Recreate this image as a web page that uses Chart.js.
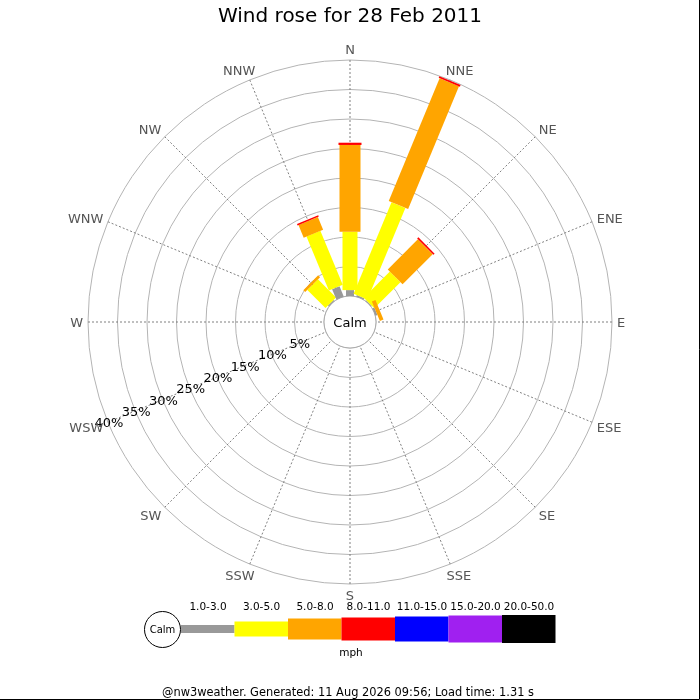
<!DOCTYPE html>
<html>
<head>
<meta charset="utf-8">
<title>Wind rose</title>
<script src="https://cdn.jsdelivr.net/npm/chart.js@4.4.1/dist/chart.umd.min.js"></script>
<style>
  html, body { margin: 0; padding: 0; background: #fff; }
  #rose { display: block; }
</style>
</head>
<body>
<canvas id="rose" width="700" height="700"></canvas>
<script>
// wind rose, 28 Feb 2011 - values are % of observations per direction and speed band
const directions = ['N', 'NNE', 'NE', 'ENE', 'E', 'ESE', 'SE', 'SSE', 'S', 'SSW', 'SW', 'WSW', 'W', 'WNW', 'NW', 'NNW'];
const speedBands = ['1.0-3.0', '3.0-5.0', '5.0-8.0', '8.0-11.0', '11.0-15.0', '15.0-20.0', '20.0-50.0'];
const band1to3   = [1.0, 0.25, 0.15, 0.34, 0, 0, 0, 0, 0, 0, 0, 0, 0, 0, 0.2, 1.88];
const band3to5   = [9.9, 16.8, 6.27, 0, 0, 0, 0, 0, 0, 0, 0, 0, 0, 0, 4.35, 9.92];
const band5to8   = [14.7, 22.53, 7.22, 0.66, 0, 0, 0, 0, 0, 0, 0, 0, 0, 0, 0.45, 2.32];
const band8to11  = [0.38, 0.28, 0.29, 0, 0, 0, 0, 0, 0, 0, 0, 0, 0, 0, 0, 0.25];
const band11to15 = [0, 0, 0, 0, 0, 0, 0, 0, 0, 0, 0, 0, 0, 0, 0, 0];
const band15to20 = [0, 0, 0, 0, 0, 0, 0, 0, 0, 0, 0, 0, 0, 0, 0, 0];
const band20to50 = [0, 0, 0, 0, 0, 0, 0, 0, 0, 0, 0, 0, 0, 0, 0, 0];
const ringTicks = [0, 5, 10, 15, 20, 25, 30, 35, 40];

const bandColors = ['#999999', '#ffff00', '#ffa500', '#ff0000', '#0000ff', '#a020f0', '#000000'];
const bandWidths = [8, 15, 21, 23, 25, 27, 28];
const FONT = 'DejaVu Sans';
const CALM_RADIUS = 26;   // px, the calm circle in the middle
const MAX_PCT = 40;
const LABEL_DIR = 11;     // ring labels run along WSW

const bandData = [band1to3, band3to5, band5to8, band8to11, band11to15, band15to20, band20to50];

// bars start at the calm circle, so push the scale minimum below zero
// (drawing area is 262px, so 26px of it is "calm")
const calmOffset = MAX_PCT * CALM_RADIUS / (262 - CALM_RADIUS);

const roseBars = {
  id: 'roseBars',
  afterDatasetsDraw(chart) {
    const ctx = chart.ctx;
    const r = chart.scales.r;

    // calm circle
    ctx.save();
    ctx.beginPath();
    ctx.arc(r.xCenter, r.yCenter, r.getDistanceFromCenterForValue(0), 0, Math.PI * 2);
    ctx.fillStyle = '#fff';
    ctx.fill();
    ctx.strokeStyle = '#aaa';
    ctx.lineWidth = 1;
    ctx.stroke();

    // stacked bars, inner band first
    chart.data.labels.forEach((lbl, i) => {
      let acc = 0;
      chart.data.datasets.forEach((ds, k) => {
        const v = ds.data[i];
        if (!v) return;
        const p0 = r.getPointPositionForValue(i, acc);
        const p1 = r.getPointPositionForValue(i, acc + v);
        acc += v;
        const hw = bandWidths[k] / 2;
        const nx = -Math.sin(p0.angle) * hw;
        const ny = Math.cos(p0.angle) * hw;
        ctx.beginPath();
        ctx.moveTo(p0.x + nx, p0.y + ny);
        ctx.lineTo(p1.x + nx, p1.y + ny);
        ctx.lineTo(p1.x - nx, p1.y - ny);
        ctx.lineTo(p0.x - nx, p0.y - ny);
        ctx.closePath();
        ctx.fillStyle = ds.backgroundColor;
        ctx.fill();
      });
    });

    ctx.textAlign = 'center';
    ctx.textBaseline = 'middle';
    ctx.fillStyle = '#000';
    ctx.font = '13px "' + FONT + '"';
    ctx.fillText('Calm', r.xCenter, r.yCenter + 1.5);

    // ring labels
    ringTicks.forEach(v => {
      if (v === 0) return;
      const p = r.getPointPositionForValue(LABEL_DIR, v);
      ctx.fillText(v + '%', p.x + 1, p.y + 1.5);
    });

    // compass labels
    ctx.fillStyle = '#555';
    chart.data.labels.forEach((lbl, i) => {
      const a = r.getIndexAngle(i);
      const p = r.getPointPosition(i, r.drawingArea + 5);
      const s = Math.sin(a), c = Math.cos(a);
      const w = ctx.measureText(lbl).width;
      const k = Math.abs(s) < 1e-6 ? 0 : Math.sign(s) * Math.min(1, Math.abs(s) * 1.4);
      ctx.fillText(lbl, p.x + k * w / 2, p.y - c * 6 + 2);
    });
    ctx.restore();
  },
  afterDraw(chart) {
    const ctx = chart.ctx;
    ctx.save();
    // legend
    const midY = 629;
    let x = 181;
    ctx.textAlign = 'center';
    ctx.textBaseline = 'middle';
    speedBands.forEach((band, k) => {
      const h = bandWidths[k];
      ctx.fillStyle = bandColors[k];
      ctx.fillRect(x, midY - h / 2, 53.5, h);
      ctx.fillStyle = '#000';
      ctx.font = '10.5px "' + FONT + '"';
      ctx.fillText(band, x + 27, 607);
      x += 53.5;
    });
    ctx.beginPath();
    ctx.arc(162.5, 629.5, 18, 0, Math.PI * 2);
    ctx.fillStyle = '#fff';
    ctx.fill();
    ctx.strokeStyle = '#000';
    ctx.lineWidth = 1;
    ctx.stroke();
    ctx.fillStyle = '#000';
    ctx.font = '10px "' + FONT + '"';
    ctx.fillText('Calm', 162.5, 630);
    ctx.font = '10.5px "' + FONT + '"';
    ctx.fillText('mph', 351, 653);

    ctx.font = '11.4px "' + FONT + '"';
    ctx.fillText('@nw3weather. Generated: 11 Aug 2026 09:56; Load time: 1.31 s', 348, 693);

    // frame on the right and bottom edges
    ctx.beginPath();
    ctx.moveTo(699.5, 0);
    ctx.lineTo(699.5, 699.5);
    ctx.lineTo(0, 699.5);
    ctx.strokeStyle = '#000';
    ctx.stroke();
    ctx.restore();
  }
};

new Chart(document.getElementById('rose'), {
  type: 'radar',
  data: {
    labels: directions,
    datasets: bandData.map((vals, k) => ({
      label: speedBands[k],
      data: vals,
      backgroundColor: bandColors[k],
      borderWidth: 0,
      pointRadius: 0,
      pointHoverRadius: 0,
      showLine: false,
      fill: false
    }))
  },
  options: {
    responsive: false,
    animation: false,
    events: [],
    layout: { padding: { left: 88, right: 88, top: 0, bottom: 116 } },
    scales: {
      r: {
        min: -calmOffset,
        max: MAX_PCT,
        startAngle: 0,
        ticks: { display: false, stepSize: 5 },
        afterBuildTicks: (scale) => {
          scale.ticks = ringTicks.map(v => ({ value: v }));
        },
        grid: { circular: true, color: '#b4b4b4', lineWidth: 1 },
        angleLines: { display: true, color: '#808080', lineWidth: 1, borderDash: [2, 2] },
        pointLabels: { display: false }
      }
    },
    plugins: {
      legend: { display: false },
      tooltip: { enabled: false },
      title: {
        display: true,
        text: 'Wind rose for 28 Feb 2011',
        color: '#000',
        font: { family: FONT, size: 20, weight: 'normal' },
        padding: { top: 5, bottom: 31 }
      }
    }
  },
  plugins: [roseBars]
});
</script>
</body>
</html>
